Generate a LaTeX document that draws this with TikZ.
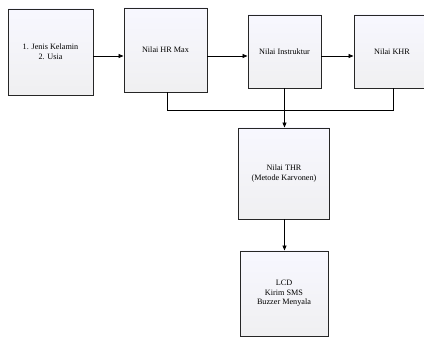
\documentclass[tikz,border=0pt]{standalone}
\usepackage{fontspec}
\setmainfont{Liberation Serif}
\usetikzlibrary{arrows.meta,calc}
\begin{document}
\begin{tikzpicture}[x=1pt,y=-1pt,
  blk/.style={draw=black!85,line width=0.9pt,top color=blue!3!white,bottom color=blue!8!black!6!white,
    align=center,font=\fontsize{8.2}{9.6}\selectfont,inner sep=0pt},
  arr/.style={-{Triangle[length=5pt,width=4pt]},line width=0.8pt},
  ln/.style={line width=0.8pt}]
\useasboundingbox (0,0) rectangle (424,337);
\begin{scope}
\clip (0,0) rectangle (424,337);
\node[blk,minimum width=85pt,minimum height=86pt] (b1) at (50.5,52) {1. Jenis Kelamin\\2. Usia};
\node[blk,minimum width=83pt,minimum height=84pt] (b2) at (165.5,50) {Nilai HR Max};
\node[blk,minimum width=73pt,minimum height=73pt] (b3) at (284.5,51.5) {Nilai Instruktur};
\node[blk,minimum width=76pt,minimum height=73pt] (b4) at (392,51.5) {Nilai KHR};
\node[blk,minimum width=91pt,minimum height=91pt] (b5) at (284,173.5) {Nilai THR\\(Metode Karvonen)};
\node[blk,minimum width=88pt,minimum height=85pt] (b6) at (284,293.5) {LCD\\Kirim SMS\\Buzzer Menyala};
\coordinate (ya) at (0,56);
\coordinate (bus) at (0,110);
\coordinate (xl) at (167,0);
\coordinate (xr) at (393,0);
\coordinate (xm) at (284.5,0);
\draw[arr] (b1.east |- ya) -- (b2.west |- ya);
\draw[arr] (b2.east |- ya) -- (b3.west |- ya);
\draw[arr] (b3.east |- ya) -- (b4.west |- ya);
\draw[ln] (b2.south -| xl) -- (xl |- bus) -- (xr |- bus) -- (b4.south -| xr);
\draw[arr] (b3.south -| xm) -- (b5.north -| xm);
\draw[arr] (b5.south -| xm) -- (b6.north -| xm);
\end{scope}
\end{tikzpicture}
\end{document}
